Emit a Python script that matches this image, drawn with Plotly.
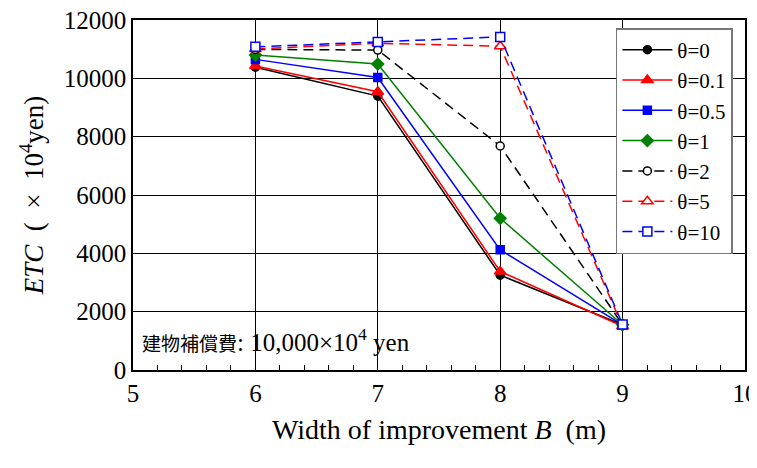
import plotly.graph_objects as go

B = [6, 7, 8, 9]
names = ["θ=0", "θ=0.1", "θ=0.5", "θ=1", "θ=2", "θ=5", "θ=10"]
etc_0 = [10380, 9390, 3250, 1550]
etc_01 = [10420, 9540, 3380, 1500]
etc_05 = [10650, 10030, 4120, 1550]
etc_1 = [10800, 10490, 5200, 1550]
etc_2 = [10990, 10970, 7680, 1550]
etc_5 = [11010, 11200, 11100, 1500]
etc_10 = [11080, 11250, 11420, 1560]
series = [etc_0, etc_01, etc_05, etc_1, etc_2, etc_5, etc_10]
colors = ["black", "red", "blue", "green", "black", "red", "blue"]
symbols = ["circle", "triangle-up", "square", "diamond", "circle", "triangle-up", "square"]
filled = [True, True, True, True, False, False, False]
dashes = ["solid", "solid", "solid", "solid", "10px,6px", "10px,6px", "10px,6px"]
msizes = [8, 10, 8, 9, 8, 10, 9]

fig = go.Figure()
for i, (n, ys) in enumerate(zip(names, series)):
    fig.add_trace(go.Scatter(
        x=B, y=ys, name=n, mode="lines+markers",
        line=dict(color=colors[i], width=1.5, dash=dashes[i]),
        marker=dict(symbol=symbols[i], size=msizes[i],
                    color=colors[i] if filled[i] else "white",
                    line=dict(color=colors[i], width=1.5)),
        legendgroup=n,
    ))

font_serif = "Liberation Serif, Times New Roman, serif"
fig.update_layout(
    width=749, height=440,
    margin=dict(l=125, r=12, t=12, b=78),
    plot_bgcolor="white", paper_bgcolor="white",
    font=dict(family=font_serif, size=25, color="black"),
    showlegend=True,
    legend=dict(x=0.789, y=0.977, xanchor="left", yanchor="top",
                bordercolor="#777", borderwidth=1.5, bgcolor="white",
                font=dict(size=21, family=font_serif), itemwidth=50,
                tracegroupgap=0),
    xaxis=dict(range=[5, 10], dtick=1, showgrid=True, gridcolor="black", gridwidth=1,
               showline=True, linecolor="black", linewidth=1.5, mirror=True,
               ticks="", tickfont=dict(size=25), zeroline=False, automargin=False,
               ticklabeloverflow="allow",
               minor=dict(dtick=0.2, ticks="inside", ticklen=5, tickcolor="black", showgrid=False),
               title=dict(text="Width of improvement <i>B</i>  (m)", font=dict(size=28), standoff=14)),
    yaxis=dict(range=[0, 12000], dtick=2000, showgrid=True, gridcolor="black", gridwidth=1,
               showline=True, linecolor="black", linewidth=1.5, mirror=True, tickformat="d",
               ticks="", tickfont=dict(size=25), zeroline=False, automargin=False,
               ticklabeloverflow="allow",
               title=dict(text="<i>ETC</i>  (\u2002×\u200210<sup>4</sup>yen)", font=dict(size=27), standoff=12)),
    annotations=[dict(x=0.012, y=0.085, xref="paper", yref="paper", xanchor="left", yanchor="middle",
                      text="<span style='font-size:19px'>建物補償費</span>: 10,000×10<sup>4</sup> yen",
                      showarrow=False,
                      font=dict(size=25, family="Liberation Serif, Noto Sans CJK JP"))],
)
fig.write_html("out.html")
